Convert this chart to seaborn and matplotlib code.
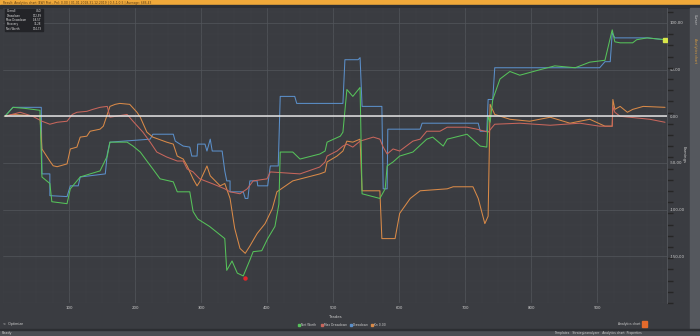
import matplotlib
matplotlib.use("Agg")
import matplotlib.pyplot as plt
import seaborn as sns
import pandas as pd
from matplotlib.patches import Rectangle

sns.set_theme(style="dark")
plt.rcParams['font.family'] = ['DejaVu Sans']

# ---------------- data ----------------
green_x = [3, 15, 33, 56, 59, 71, 74, 97, 102, 117, 132, 147, 158, 162, 188, 197, 208, 218, 227, 238,
           258, 264, 283, 288, 295, 313, 336, 339, 347, 355, 364, 374, 379, 392, 401, 412, 418, 420,
           439, 450, 480, 488, 491, 511, 515, 521, 530, 541, 544, 571, 579, 582, 591, 601, 621, 642,
           651, 667, 673, 703, 723, 733, 735, 738, 742, 753, 768, 783, 814, 836, 867, 889, 912, 923,
           927, 935, 954, 960, 976, 1003]
green_y = [0, 9.6, 8.5, 6.4, -65, -72, -91.5, -93.6, -77.7, -65, -61.7, -58.5, -42.6, -27.7, -27.7,
           -31.9, -38.3, -47.9, -56.4, -67, -70.2, -80.9, -80.9, -102, -110, -118, -131, -165, -155,
           -168, -171, -154, -145, -144, -131, -118, -94, -38.3, -38.3, -45.8, -40.4, -37.2, -27.7,
           -21.3, -17, 28.7, 21.3, 30.9, -83, -88, -77.7, -53.2, -48.9, -42.6, -38.3, -24.5, -22.3,
           -31.9, -24.5, -19.2, -31.9, -33, 0, -6.4, 18, 40, 48, 44, 50, 54, 52, 58, 60, 92.6, 79.8,
           78.7, 78.7, 82, 84, 82]

blue_x = [3, 15, 58, 59, 71, 71, 97, 102, 114, 117, 155, 158, 162, 223, 227, 258, 261, 273, 283, 286,
          294, 295, 306, 309, 314, 317, 332, 336, 339, 344, 344, 364, 367, 371, 374, 385, 386, 401,
          405, 417, 420, 442, 445, 515, 518, 538, 541, 544, 574, 576, 582, 583, 632, 635, 720, 723,
          733, 735, 742, 745, 904, 912, 920, 923, 927, 976, 1003]
blue_y = [0, 9.6, 9.6, -61.7, -61.7, -85, -86, -74.5, -74.5, -65, -61.7, -40.4, -27.7, -24.5, -19.2,
          -19.2, -26.6, -31.9, -33, -42.6, -42.6, -29.8, -29.8, -37.2, -24.5, -37.2, -37.2, -58.5,
          -69.2, -69.2, -80.9, -80.9, -88, -88, -69.2, -69.2, -74.5, -74.5, -53.2, -53.2, 21.3,
          21.3, 13.8, 13.8, 60.6, 60.6, 62.8, 10.6, 10.6, -77.7, -77.7, -13.8, -13.8, -7.4, -7.4,
          -16, -16, 18, 18, 52, 52, 58.5, 58.5, 89.4, 84, 84, 82]

orange_x = [3, 15, 56, 59, 71, 76, 82, 97, 102, 112, 117, 127, 132, 147, 152, 158, 162, 170, 177, 192,
            203, 208, 218, 227, 248, 258, 264, 273, 279, 288, 294, 298, 309, 314, 329, 336, 344, 351,
            359, 367, 374, 385, 397, 408, 415, 439, 480, 488, 491, 506, 515, 521, 530, 541, 544, 571,
            574, 594, 601, 617, 632, 673, 682, 712, 720, 730, 735, 738, 745, 768, 798, 829, 859, 889,
            912, 923, 924, 927, 935, 946, 954, 970, 1003]
orange_y = [0, 2, 0, -35, -48, -53, -54, -51, -35, -33, -22.3, -21.3, -16, -13.8, -10.6, 2, 10.6, 12.8,
            13.8, 12.8, 4.3, -1, -17, -22.3, -27.7, -29.8, -42.6, -45.8, -53.2, -67, -74.5, -70.2,
            -53.2, -63.8, -74.5, -72, -88, -120, -141.5, -146.8, -139, -125.6, -115, -99, -80.9,
            -69.2, -61.7, -59.6, -48.9, -42.6, -37.2, -26.6, -27.7, -24.5, -79.8, -79.8, -131, -131,
            -104, -88, -79.8, -77.7, -75.5, -75.5, -88, -115, -107, 12.8, 2, -3.2, -5.3, -1, -7.4,
            -3.2, -10.6, -10.6, 18, 7.4, 10.6, 4.3, 7.4, 10.6, 9.6]

red_x = [3, 26, 45, 59, 71, 82, 97, 105, 112, 127, 136, 147, 158, 162, 188, 197, 212, 223, 233, 248,
         264, 273, 279, 288, 298, 318, 336, 344, 359, 370, 379, 400, 405, 450, 480, 488, 491, 506,
         515, 521, 530, 541, 561, 571, 576, 582, 591, 601, 621, 632, 642, 662, 673, 703, 718, 735,
         745, 783, 829, 874, 904, 923, 924, 927, 935, 980, 1003]
red_y = [0, 4.3, 0, -5.3, -8.5, -6.4, -5.3, 2, 4.3, 5.3, 7.4, 9.6, 10.6, -1, 2, -5.3, -17, -27.7,
         -38.3, -43.6, -47.9, -47.9, -56.4, -59.6, -67, -72.4, -77.7, -80.9, -83, -77.7, -69.2, -67,
         -59.6, -61.7, -54.3, -48.9, -42.6, -37.2, -31.9, -29.8, -33, -26.6, -22.3, -24.5, -33,
         -40.4, -35, -37.2, -26.6, -24.5, -16, -16, -11.7, -11.7, -13.8, -17, -8.5, -7.4, -9.6,
         -7.4, -10.6, -10.6, 10.6, 4.3, 0, -3.2, -6.4]

series_names = ["Net Worth", "Max Drawdown", "Drawdown", "Kn 0.00"]
series_colors = ["#56c25a", "#c8665c", "#5b8fc9", "#d98a48"]

x_ticks = [100, 200, 300, 400, 500, 600, 700, 800, 900]
y_ticks = [100, 50, 0, -50, -100, -150]
y_tick_labels = ["100,00", "50,00", "0,00", "-50,00", "-100,00", "-150,00"]

stats_rows = [("Overall", "USD"), ("Drawdown", "172,59"), ("Max Drawdown", "-58,57"),
              ("Recovery", "33,28"), ("Net Worth", "174,73")]

frames = []
for name, xs, ys in [("Drawdown", blue_x, blue_y), ("Kn 0.00", orange_x, orange_y),
                     ("Max Drawdown", red_x, red_y), ("Net Worth", green_x, green_y)]:
    frames.append(pd.DataFrame({"trade": xs, "value": ys, "series": name}))
df = pd.concat(frames, ignore_index=True)

# ---------------- figure ----------------
W, H = 700, 336
fig = plt.figure(figsize=(7, 3.36), dpi=100)
fig.patch.set_facecolor("#3a3c41")

def fx(px):
    return px / W

def fy(py):
    return 1 - py / H

# top orange bar
fig.add_artist(Rectangle((0, fy(5)), 1, 5 / H, transform=fig.transFigure, color="#f0a93a", zorder=0))
fig.add_artist(Rectangle((0, fy(8)), 1, 3 / H, transform=fig.transFigure, color="#2e3034", zorder=0))
fig.text(fx(3), fy(2.6), "Result: Analytics chart (EW) Plot - Pnl: 0.00 | 01.01.2018-31.12.2019 | 0,5,1,0.5 | Average: $86,43",
         fontsize=2.2, color="#5a3a10", va="center", ha="left")

# right side panel
fig.add_artist(Rectangle((fx(690), fy(330)), 10 / W, 322 / H, transform=fig.transFigure,
                         color="#55585e", zorder=0))
fig.text(fx(695), fy(20), "Cursor", rotation=270, fontsize=2.4, color="#c8c8c8", ha="center", va="center")
fig.text(fx(695), fy(50), "Analytics chart", rotation=270, fontsize=2.4, color="#d49a40", ha="center", va="center")

# bottom bars
fig.add_artist(Rectangle((0, 0), 1, 6 / H, transform=fig.transFigure, color="#4b4e53", zorder=0))
fig.add_artist(Rectangle((0, fy(330)), 1, 1.2 / H, transform=fig.transFigure, color="#2c2e32", zorder=0))
fig.text(fx(2), fy(333), "Ready", fontsize=2.4, color="#cfcfcf", va="center")
fig.text(fx(3), fy(324.5), "<  Optimize", fontsize=2.4, color="#cfcfcf", va="center")
fig.text(fx(640), fy(324), "Analytics chart", fontsize=2.2, color="#cfcfcf", va="center", ha="right")
fig.add_artist(Rectangle((fx(642), fy(327)), 5 / W, 6 / H, transform=fig.transFigure, color="#e46a2c", zorder=1))
fig.text(fx(598), fy(333), "Templates   Strategieanalyzer   Analytics chart  Properties", fontsize=2.2,
         color="#cfcfcf", va="center", ha="center")

# main axes
ax = fig.add_axes([fx(3), fy(303), (667 - 3) / W, (303 - 8) / H])
ax.set_facecolor("#3a3c41")

palette = dict(zip(series_names, series_colors))
sns.lineplot(data=df, x="trade", y="value", hue="series", palette=palette, sort=False,
             estimator=None, units="series", linewidth=0.75, legend=False, ax=ax, zorder=3)

ax.axhline(0, color="#e4e4e4", lw=1.1, zorder=4, xmin=0.003)

# markers
ax.plot([367], [-173], marker="o", ms=2.2, color="#e0262a", zorder=5)
ax.plot([1003], [82], marker="s", ms=2.2, color="#d8e64a", zorder=5)

ax.set_xlim(0, 1006)
ax.set_ylim(-198, 116)
ax.set_xticks(x_ticks)
ax.set_xticklabels([str(t) for t in x_ticks], fontsize=2.8, color="#cfcfcf")
ax.set_yticks(y_ticks)
ax.set_yticklabels(y_tick_labels, fontsize=2.8, color="#cfcfcf")
ax.yaxis.tick_right()
ax.tick_params(axis="both", length=0, pad=2)
ax.set_xticks(range(0, 1006, 25), minor=True)
ax.set_yticks(range(-200, 120, 12), minor=True)
ax.grid(True, which="major", color="#53565c", lw=0.5)
ax.grid(True, which="minor", color="#42454a", lw=0.3)
for s in ax.spines.values():
    s.set_visible(False)
ax.spines["right"].set_visible(True)
ax.spines["right"].set_color("#55585d")
ax.spines["right"].set_linewidth(0.6)
ax.set_xlabel("Trades", fontsize=2.8, color="#cfcfcf", labelpad=1)
ax.set_ylabel("")
fig.text(fx(684), fy(155), "Earnings", rotation=270, fontsize=2.8, color="#cfcfcf", ha="center", va="center")

# stats box
fig.add_artist(Rectangle((fx(5), fy(31)), 38 / W, 22 / H, transform=fig.transFigure,
                         color="#232428", zorder=6))
for i, (k, v) in enumerate(stats_rows):
    yy = fy(11.5 + i * 4.3)
    fig.text(fx(6.5), yy, k, fontsize=1.9, color="#e0e0e0", va="center", ha="left", zorder=7)
    fig.text(fx(41.5), yy, v, fontsize=1.9, color="#e0e0e0", va="center", ha="right", zorder=7)

# legend
leg_x = 298
for name, col in zip(series_names, series_colors):
    fig.add_artist(Rectangle((fx(leg_x), fy(325.5)), 2 / W, 2 / H, transform=fig.transFigure,
                             color=col, zorder=6))
    fig.text(fx(leg_x + 3), fy(324.5), name, fontsize=2.2, color="#cfcfcf", va="center", ha="left")
    leg_x += 4 + len(name) * 1.8 + 3

fig.savefig("out.png", dpi=100, facecolor=fig.get_facecolor())
